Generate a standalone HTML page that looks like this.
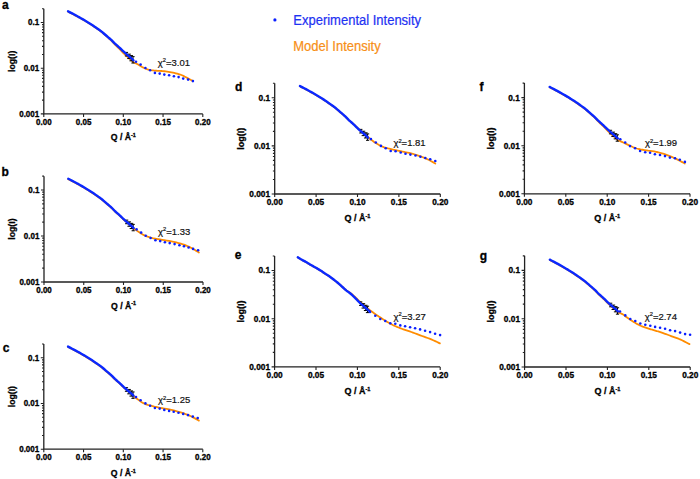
<!DOCTYPE html>
<html><head><meta charset="utf-8"><style>
html,body{margin:0;padding:0;background:#fff;}
svg{display:block;}
text{font-family:"Liberation Sans", sans-serif;fill:#111;}
text[font-weight="bold"]{stroke:#000;stroke-width:0.3px;fill:#000;}
</style></head><body>
<svg width="700" height="479" viewBox="0 0 700 479">
<rect width="700" height="479" fill="#fff"/>
<path d="M43.80,8.74 V113.90 H202.80" stroke="#222" stroke-width="1.3" fill="none"/>
<path d="M40.80,113.90 H43.80 M42.00,100.14 H43.80 M42.00,92.10 H43.80 M42.00,86.39 H43.80 M42.00,81.96 H43.80 M42.00,78.34 H43.80 M42.00,75.28 H43.80 M42.00,72.63 H43.80 M42.00,70.29 H43.80 M40.80,68.20 H43.80 M42.00,54.44 H43.80 M42.00,46.40 H43.80 M42.00,40.69 H43.80 M42.00,36.26 H43.80 M42.00,32.64 H43.80 M42.00,29.58 H43.80 M42.00,26.93 H43.80 M42.00,24.59 H43.80 M40.80,22.50 H43.80 M42.00,8.74 H43.80 M43.80,113.90 V116.90 M83.55,113.90 V116.90 M123.30,113.90 V116.90 M163.05,113.90 V116.90 M202.80,113.90 V116.90" stroke="#222" stroke-width="1.1" fill="none"/>
<text transform="translate(39.20,25.40) scale(1,1.06)" text-anchor="end" font-size="8.0" font-weight="bold">0.1</text>
<text transform="translate(39.20,71.10) scale(1,1.06)" text-anchor="end" font-size="8.0" font-weight="bold">0.01</text>
<text transform="translate(39.20,116.80) scale(1,1.06)" text-anchor="end" font-size="8.0" font-weight="bold">0.001</text>
<text transform="translate(43.80,124.80) scale(1,1.06)" text-anchor="middle" font-size="8.0" font-weight="bold">0.00</text>
<text transform="translate(83.55,124.80) scale(1,1.06)" text-anchor="middle" font-size="8.0" font-weight="bold">0.05</text>
<text transform="translate(123.30,124.80) scale(1,1.06)" text-anchor="middle" font-size="8.0" font-weight="bold">0.10</text>
<text transform="translate(163.05,124.80) scale(1,1.06)" text-anchor="middle" font-size="8.0" font-weight="bold">0.15</text>
<text transform="translate(202.80,124.80) scale(1,1.06)" text-anchor="middle" font-size="8.0" font-weight="bold">0.20</text>
<text transform="translate(123.30,140.40) scale(1,1.06)" text-anchor="middle" font-size="8.7" font-weight="bold">Q / Å<tspan dy="-3" font-size="5.39">-1</tspan></text>
<text transform="translate(14.80,61.32) rotate(-90)" text-anchor="middle" font-size="8.7" font-weight="bold">log(I)</text>
<path d="M68.05,11.60 L69.05,12.13 L70.48,12.87 L72.13,13.73 L73.80,14.61 L75.29,15.40 L76.58,16.09 L77.80,16.76 L78.98,17.41 L80.16,18.06 L81.34,18.73 L82.54,19.42 L83.72,20.11 L84.91,20.81 L86.10,21.52 L87.29,22.25 L88.50,23.00 L89.71,23.76 L90.92,24.54 L92.13,25.33 L93.34,26.14 L94.61,26.99 L95.92,27.89 L97.20,28.79 L98.39,29.63 L99.39,30.34 L100.13,30.86 L100.65,31.22 L101.09,31.54 L101.58,31.93 L102.27,32.49 L103.23,33.29 L104.37,34.27 L105.57,35.34 L106.73,36.38 L107.74,37.31 L108.57,38.06 L109.30,38.71 L109.96,39.31 L110.61,39.91 L111.30,40.59 L112.01,41.33 L112.71,42.10 L113.42,42.90 L114.16,43.71 L114.94,44.55 L115.79,45.40 L116.69,46.27 L117.61,47.16 L118.54,48.06 L119.46,48.98 L120.38,49.93 L121.31,50.91 L122.23,51.89 L123.13,52.83 L123.98,53.69 L124.76,54.46 L125.50,55.16 L126.21,55.82 L126.91,56.46 L127.62,57.10 L128.35,57.75 L129.10,58.39 L129.84,59.02 L130.54,59.60 L131.17,60.15 L131.75,60.66 L132.29,61.17 L132.78,61.63 L133.18,62.01 L133.48,62.29 L133.93,62.50 L134.56,62.77 L135.32,63.11 L136.18,63.52 L137.10,64.00 L138.12,64.59 L139.27,65.29 L140.48,66.04 L141.71,66.76 L142.90,67.40 L144.05,67.95 L145.19,68.47 L146.32,68.93 L147.46,69.35 L148.60,69.70 L149.74,69.98 L150.88,70.19 L152.02,70.35 L153.16,70.48 L154.30,70.60 L155.42,70.69 L156.51,70.74 L157.62,70.78 L158.77,70.82 L160.00,70.90 L161.33,71.00 L162.73,71.12 L164.19,71.26 L165.65,71.42 L167.10,71.60 L168.54,71.81 L169.98,72.04 L171.42,72.29 L172.86,72.58 L174.30,72.90 L175.75,73.26 L177.21,73.64 L178.67,74.06 L180.07,74.52 L181.40,75.00 L182.63,75.52 L183.78,76.09 L184.88,76.68 L185.98,77.29 L187.10,77.90 L188.35,78.57 L189.69,79.31 L190.99,80.04 L192.11,80.66 L192.90,81.10" stroke="#ff8c00" stroke-width="1.8" fill="none" stroke-linejoin="round" stroke-linecap="round"/>
<path d="M126.48,52.40 V56.00 M124.88,52.40 H128.08 M124.88,56.00 H128.08 M129.02,54.15 V58.55 M127.22,54.15 H130.82 M127.22,58.55 H130.82 M131.25,55.62 V60.82 M129.45,55.62 H133.05 M129.45,60.82 H133.05 M133.00,56.64 V63.04 M131.40,56.64 H134.60 M131.40,63.04 H134.60" stroke="#000" stroke-width="1" fill="none"/>
<path d="M68.05,11.30 L69.05,11.83 L70.48,12.57 L72.13,13.43 L73.80,14.31 L75.29,15.10 L76.58,15.79 L77.80,16.46 L78.98,17.11 L80.16,17.76 L81.34,18.43 L82.54,19.12 L83.72,19.81 L84.91,20.51 L86.10,21.22 L87.29,21.95 L88.50,22.70 L89.71,23.46 L90.92,24.24 L92.13,25.03 L93.34,25.84 L94.61,26.69 L95.92,27.59 L97.20,28.49 L98.39,29.33 L99.39,30.04 L100.13,30.56 L100.65,30.92 L101.09,31.24 L101.58,31.63 L102.27,32.19 L103.23,32.99 L104.37,33.97 L105.57,35.01 L106.73,36.02 L107.74,36.90 L108.57,37.60 L109.30,38.21 L109.96,38.77 L110.61,39.33 L111.30,39.96 L112.01,40.64 L112.71,41.36 L113.42,42.10 L114.16,42.85 L114.94,43.61 L115.79,44.39 L116.69,45.18 L117.61,45.99 L118.54,46.80 L119.46,47.64 L120.38,48.50 L121.31,49.40 L122.23,50.31 L123.13,51.18 L123.98,51.98 L124.76,52.69 L125.50,53.35 L126.21,53.97 L126.91,54.57 L127.62,55.18 L128.35,55.80 L129.10,56.42 L129.84,57.03 L130.54,57.61 L131.17,58.15 L131.75,58.66 L132.29,59.17 L132.78,59.63 L133.18,60.01 L133.48,60.29" stroke="#0a28ff" stroke-width="2.4" fill="none" stroke-linejoin="round" stroke-linecap="round"/>
<circle cx="136.00" cy="61.70" r="1.3" fill="#0a1eff"/>
<circle cx="140.60" cy="64.60" r="1.3" fill="#0a1eff"/>
<circle cx="145.40" cy="68.00" r="1.3" fill="#0a1eff"/>
<circle cx="150.10" cy="70.30" r="1.3" fill="#0a1eff"/>
<circle cx="154.90" cy="72.90" r="1.3" fill="#0a1eff"/>
<circle cx="159.70" cy="73.60" r="1.3" fill="#0a1eff"/>
<circle cx="164.30" cy="74.60" r="1.3" fill="#0a1eff"/>
<circle cx="169.10" cy="75.20" r="1.3" fill="#0a1eff"/>
<circle cx="173.90" cy="76.30" r="1.3" fill="#0a1eff"/>
<circle cx="178.60" cy="77.10" r="1.3" fill="#0a1eff"/>
<circle cx="183.20" cy="78.60" r="1.3" fill="#0a1eff"/>
<circle cx="188.10" cy="79.60" r="1.3" fill="#0a1eff"/>
<circle cx="192.90" cy="81.10" r="1.3" fill="#0a1eff"/>
<text transform="translate(157.80,65.60) scale(1,1.035)" font-size="9.5" style="fill:#111;stroke:#111;stroke-width:0.2px">χ<tspan dy="-3.4" font-size="5.8">2</tspan><tspan dy="3.4">=3.01</tspan></text>
<text x="2.10" y="8.90" font-size="12" font-weight="bold">a</text>
<path d="M44.00,176.15 V282.00 H203.00" stroke="#222" stroke-width="1.3" fill="none"/>
<path d="M41.00,282.00 H44.00 M42.20,268.15 H44.00 M42.20,260.05 H44.00 M42.20,254.31 H44.00 M42.20,249.85 H44.00 M42.20,246.21 H44.00 M42.20,243.13 H44.00 M42.20,240.46 H44.00 M42.20,238.10 H44.00 M41.00,236.00 H44.00 M42.20,222.15 H44.00 M42.20,214.05 H44.00 M42.20,208.31 H44.00 M42.20,203.85 H44.00 M42.20,200.21 H44.00 M42.20,197.13 H44.00 M42.20,194.46 H44.00 M42.20,192.10 H44.00 M41.00,190.00 H44.00 M42.20,176.15 H44.00 M44.00,282.00 V285.00 M83.75,282.00 V285.00 M123.50,282.00 V285.00 M163.25,282.00 V285.00 M203.00,282.00 V285.00" stroke="#222" stroke-width="1.1" fill="none"/>
<text transform="translate(39.40,192.90) scale(1,1.06)" text-anchor="end" font-size="8.0" font-weight="bold">0.1</text>
<text transform="translate(39.40,238.90) scale(1,1.06)" text-anchor="end" font-size="8.0" font-weight="bold">0.01</text>
<text transform="translate(39.40,284.90) scale(1,1.06)" text-anchor="end" font-size="8.0" font-weight="bold">0.001</text>
<text transform="translate(44.00,292.90) scale(1,1.06)" text-anchor="middle" font-size="8.0" font-weight="bold">0.00</text>
<text transform="translate(83.75,292.90) scale(1,1.06)" text-anchor="middle" font-size="8.0" font-weight="bold">0.05</text>
<text transform="translate(123.50,292.90) scale(1,1.06)" text-anchor="middle" font-size="8.0" font-weight="bold">0.10</text>
<text transform="translate(163.25,292.90) scale(1,1.06)" text-anchor="middle" font-size="8.0" font-weight="bold">0.15</text>
<text transform="translate(203.00,292.90) scale(1,1.06)" text-anchor="middle" font-size="8.0" font-weight="bold">0.20</text>
<text transform="translate(123.50,308.50) scale(1,1.06)" text-anchor="middle" font-size="8.7" font-weight="bold">Q / Å<tspan dy="-3" font-size="5.39">-1</tspan></text>
<text transform="translate(15.00,229.08) rotate(-90)" text-anchor="middle" font-size="8.7" font-weight="bold">log(I)</text>
<path d="M68.25,179.13 L69.25,179.66 L70.68,180.40 L72.33,181.27 L74.00,182.15 L75.49,182.95 L76.78,183.65 L78.00,184.32 L79.18,184.97 L80.36,185.63 L81.54,186.31 L82.74,187.00 L83.92,187.69 L85.11,188.40 L86.30,189.11 L87.49,189.85 L88.70,190.60 L89.91,191.37 L91.12,192.15 L92.33,192.95 L93.54,193.76 L94.81,194.62 L96.12,195.53 L97.40,196.43 L98.59,197.27 L99.59,197.99 L100.33,198.51 L100.85,198.88 L101.29,199.20 L101.78,199.59 L102.47,200.15 L103.43,200.96 L104.57,201.94 L105.77,202.99 L106.93,204.01 L107.94,204.89 L108.77,205.60 L109.50,206.21 L110.16,206.78 L110.81,207.34 L111.50,207.97 L112.21,208.66 L112.91,209.38 L113.62,210.12 L114.36,210.88 L115.14,211.65 L115.99,212.43 L116.89,213.23 L117.81,214.04 L118.74,214.86 L119.66,215.70 L120.58,216.57 L121.51,217.48 L122.43,218.39 L123.33,219.26 L124.18,220.07 L124.96,220.79 L125.70,221.45 L126.41,222.07 L127.11,222.68 L127.82,223.29 L128.55,223.92 L129.30,224.54 L130.04,225.15 L130.74,225.74 L131.37,226.28 L131.95,226.80 L132.49,227.31 L132.98,227.77 L133.38,228.16 L133.68,228.44 L134.95,229.33 L136.76,230.61 L138.86,232.06 L140.99,233.47 L142.90,234.60 L144.56,235.44 L146.14,236.12 L147.68,236.70 L149.25,237.21 L150.90,237.70 L152.61,238.14 L154.35,238.51 L156.14,238.84 L158.02,239.15 L160.00,239.50 L162.13,239.86 L164.39,240.20 L166.72,240.56 L169.08,240.95 L171.40,241.40 L173.75,241.91 L176.16,242.46 L178.55,243.06 L180.82,243.67 L182.90,244.30 L184.72,244.93 L186.35,245.56 L187.87,246.22 L189.36,246.92 L190.90,247.70 L192.63,248.65 L194.48,249.75 L196.28,250.86 L197.81,251.82 L198.90,252.50" stroke="#ff8c00" stroke-width="1.8" fill="none" stroke-linejoin="round" stroke-linecap="round"/>
<path d="M126.68,220.11 V223.71 M125.08,220.11 H128.28 M125.08,223.71 H128.28 M129.22,221.88 V226.28 M127.42,221.88 H131.02 M127.42,226.28 H131.02 M131.45,223.35 V228.55 M129.65,223.35 H133.25 M129.65,228.55 H133.25 M133.20,224.38 V230.78 M131.60,224.38 H134.80 M131.60,230.78 H134.80" stroke="#000" stroke-width="1" fill="none"/>
<path d="M68.25,178.73 L69.25,179.26 L70.68,180.00 L72.33,180.87 L74.00,181.75 L75.49,182.55 L76.78,183.25 L78.00,183.92 L79.18,184.57 L80.36,185.23 L81.54,185.91 L82.74,186.60 L83.92,187.29 L85.11,188.00 L86.30,188.71 L87.49,189.45 L88.70,190.20 L89.91,190.97 L91.12,191.75 L92.33,192.55 L93.54,193.36 L94.81,194.22 L96.12,195.13 L97.40,196.03 L98.59,196.87 L99.59,197.59 L100.33,198.11 L100.85,198.48 L101.29,198.80 L101.78,199.19 L102.47,199.75 L103.43,200.56 L104.57,201.54 L105.77,202.59 L106.93,203.61 L107.94,204.49 L108.77,205.20 L109.50,205.81 L110.16,206.38 L110.81,206.94 L111.50,207.57 L112.21,208.26 L112.91,208.98 L113.62,209.72 L114.36,210.48 L115.14,211.25 L115.99,212.03 L116.89,212.83 L117.81,213.64 L118.74,214.46 L119.66,215.30 L120.58,216.17 L121.51,217.08 L122.43,217.99 L123.33,218.86 L124.18,219.67 L124.96,220.39 L125.70,221.05 L126.41,221.67 L127.11,222.28 L127.82,222.89 L128.55,223.52 L129.30,224.14 L130.04,224.75 L130.74,225.34 L131.37,225.88 L131.95,226.40 L132.49,226.91 L132.98,227.37 L133.38,227.76 L133.68,228.04" stroke="#0a28ff" stroke-width="2.4" fill="none" stroke-linejoin="round" stroke-linecap="round"/>
<circle cx="136.60" cy="229.40" r="1.3" fill="#0a1eff"/>
<circle cx="141.10" cy="232.60" r="1.3" fill="#0a1eff"/>
<circle cx="145.70" cy="235.70" r="1.3" fill="#0a1eff"/>
<circle cx="150.60" cy="238.00" r="1.3" fill="#0a1eff"/>
<circle cx="155.40" cy="240.30" r="1.3" fill="#0a1eff"/>
<circle cx="160.20" cy="241.10" r="1.3" fill="#0a1eff"/>
<circle cx="164.90" cy="242.30" r="1.3" fill="#0a1eff"/>
<circle cx="169.70" cy="243.10" r="1.3" fill="#0a1eff"/>
<circle cx="174.60" cy="244.10" r="1.3" fill="#0a1eff"/>
<circle cx="179.40" cy="245.20" r="1.3" fill="#0a1eff"/>
<circle cx="184.00" cy="246.30" r="1.3" fill="#0a1eff"/>
<circle cx="188.60" cy="247.50" r="1.3" fill="#0a1eff"/>
<circle cx="193.10" cy="248.90" r="1.3" fill="#0a1eff"/>
<circle cx="198.10" cy="250.20" r="1.3" fill="#0a1eff"/>
<text transform="translate(158.00,234.60) scale(1,1.035)" font-size="9.5" style="fill:#111;stroke:#111;stroke-width:0.2px">χ<tspan dy="-3.4" font-size="5.8">2</tspan><tspan dy="3.4">=1.33</tspan></text>
<text x="1.60" y="175.80" font-size="12" font-weight="bold">b</text>
<path d="M43.80,344.04 V449.20 H202.80" stroke="#222" stroke-width="1.3" fill="none"/>
<path d="M40.80,449.20 H43.80 M42.00,435.44 H43.80 M42.00,427.40 H43.80 M42.00,421.69 H43.80 M42.00,417.26 H43.80 M42.00,413.64 H43.80 M42.00,410.58 H43.80 M42.00,407.93 H43.80 M42.00,405.59 H43.80 M40.80,403.50 H43.80 M42.00,389.74 H43.80 M42.00,381.70 H43.80 M42.00,375.99 H43.80 M42.00,371.56 H43.80 M42.00,367.94 H43.80 M42.00,364.88 H43.80 M42.00,362.23 H43.80 M42.00,359.89 H43.80 M40.80,357.80 H43.80 M42.00,344.04 H43.80 M43.80,449.20 V452.20 M83.55,449.20 V452.20 M123.30,449.20 V452.20 M163.05,449.20 V452.20 M202.80,449.20 V452.20" stroke="#222" stroke-width="1.1" fill="none"/>
<text transform="translate(39.20,360.70) scale(1,1.06)" text-anchor="end" font-size="8.0" font-weight="bold">0.1</text>
<text transform="translate(39.20,406.40) scale(1,1.06)" text-anchor="end" font-size="8.0" font-weight="bold">0.01</text>
<text transform="translate(39.20,452.10) scale(1,1.06)" text-anchor="end" font-size="8.0" font-weight="bold">0.001</text>
<text transform="translate(43.80,460.10) scale(1,1.06)" text-anchor="middle" font-size="8.0" font-weight="bold">0.00</text>
<text transform="translate(83.55,460.10) scale(1,1.06)" text-anchor="middle" font-size="8.0" font-weight="bold">0.05</text>
<text transform="translate(123.30,460.10) scale(1,1.06)" text-anchor="middle" font-size="8.0" font-weight="bold">0.10</text>
<text transform="translate(163.05,460.10) scale(1,1.06)" text-anchor="middle" font-size="8.0" font-weight="bold">0.15</text>
<text transform="translate(202.80,460.10) scale(1,1.06)" text-anchor="middle" font-size="8.0" font-weight="bold">0.20</text>
<text transform="translate(123.30,475.70) scale(1,1.06)" text-anchor="middle" font-size="8.7" font-weight="bold">Q / Å<tspan dy="-3" font-size="5.39">-1</tspan></text>
<text transform="translate(14.80,396.62) rotate(-90)" text-anchor="middle" font-size="8.7" font-weight="bold">log(I)</text>
<path d="M68.05,347.00 L69.05,347.53 L70.48,348.27 L72.13,349.13 L73.80,350.01 L75.29,350.80 L76.58,351.49 L77.80,352.16 L78.98,352.81 L80.16,353.46 L81.34,354.13 L82.54,354.82 L83.72,355.51 L84.91,356.21 L86.10,356.92 L87.29,357.65 L88.50,358.40 L89.71,359.16 L90.92,359.94 L92.13,360.73 L93.34,361.54 L94.61,362.39 L95.92,363.29 L97.20,364.19 L98.39,365.03 L99.39,365.74 L100.13,366.26 L100.65,366.62 L101.09,366.94 L101.58,367.33 L102.27,367.89 L103.23,368.69 L104.37,369.67 L105.57,370.71 L106.73,371.72 L107.74,372.60 L108.57,373.30 L109.30,373.91 L109.96,374.47 L110.61,375.03 L111.30,375.66 L112.01,376.34 L112.71,377.06 L113.42,377.80 L114.16,378.55 L114.94,379.31 L115.79,380.09 L116.69,380.88 L117.61,381.69 L118.54,382.50 L119.46,383.33 L120.38,384.20 L121.31,385.10 L122.23,386.01 L123.13,386.88 L123.98,387.68 L124.76,388.39 L125.50,389.05 L126.21,389.67 L126.91,390.27 L127.62,390.88 L128.35,391.50 L129.10,392.12 L129.84,392.73 L130.54,393.31 L131.17,393.85 L131.75,394.36 L132.29,394.87 L132.78,395.33 L133.18,395.71 L133.48,395.99 L134.78,397.00 L136.64,398.46 L138.78,400.10 L140.96,401.67 L142.90,402.90 L144.57,403.73 L146.15,404.35 L147.69,404.83 L149.25,405.25 L150.90,405.70 L152.61,406.16 L154.35,406.59 L156.14,406.99 L158.02,407.39 L160.00,407.80 L162.13,408.20 L164.39,408.59 L166.72,408.98 L169.08,409.41 L171.40,409.90 L173.75,410.47 L176.16,411.10 L178.55,411.77 L180.82,412.44 L182.90,413.10 L184.72,413.72 L186.35,414.33 L187.87,414.94 L189.36,415.59 L190.90,416.30 L192.63,417.16 L194.48,418.15 L196.28,419.14 L197.81,420.00 L198.90,420.60" stroke="#ff8c00" stroke-width="1.8" fill="none" stroke-linejoin="round" stroke-linecap="round"/>
<path d="M126.48,387.70 V391.30 M124.88,387.70 H128.08 M124.88,391.30 H128.08 M129.02,389.45 V393.85 M127.22,389.45 H130.82 M127.22,393.85 H130.82 M131.25,390.92 V396.12 M129.45,390.92 H133.05 M129.45,396.12 H133.05 M133.00,391.94 V398.34 M131.40,391.94 H134.60 M131.40,398.34 H134.60" stroke="#000" stroke-width="1" fill="none"/>
<path d="M68.05,346.60 L69.05,347.13 L70.48,347.87 L72.13,348.73 L73.80,349.61 L75.29,350.40 L76.58,351.09 L77.80,351.76 L78.98,352.41 L80.16,353.06 L81.34,353.73 L82.54,354.42 L83.72,355.11 L84.91,355.81 L86.10,356.52 L87.29,357.25 L88.50,358.00 L89.71,358.76 L90.92,359.54 L92.13,360.33 L93.34,361.14 L94.61,361.99 L95.92,362.89 L97.20,363.79 L98.39,364.63 L99.39,365.34 L100.13,365.86 L100.65,366.22 L101.09,366.54 L101.58,366.93 L102.27,367.49 L103.23,368.29 L104.37,369.27 L105.57,370.31 L106.73,371.32 L107.74,372.20 L108.57,372.90 L109.30,373.51 L109.96,374.07 L110.61,374.63 L111.30,375.26 L112.01,375.94 L112.71,376.66 L113.42,377.40 L114.16,378.15 L114.94,378.91 L115.79,379.69 L116.69,380.48 L117.61,381.29 L118.54,382.10 L119.46,382.94 L120.38,383.80 L121.31,384.70 L122.23,385.61 L123.13,386.48 L123.98,387.28 L124.76,387.99 L125.50,388.65 L126.21,389.27 L126.91,389.87 L127.62,390.48 L128.35,391.10 L129.10,391.72 L129.84,392.33 L130.54,392.91 L131.17,393.45 L131.75,393.96 L132.29,394.47 L132.78,394.93 L133.18,395.31 L133.48,395.59" stroke="#0a28ff" stroke-width="2.4" fill="none" stroke-linejoin="round" stroke-linecap="round"/>
<circle cx="136.00" cy="397.10" r="1.3" fill="#0a1eff"/>
<circle cx="140.60" cy="400.30" r="1.3" fill="#0a1eff"/>
<circle cx="145.40" cy="403.40" r="1.3" fill="#0a1eff"/>
<circle cx="150.10" cy="405.70" r="1.3" fill="#0a1eff"/>
<circle cx="154.90" cy="408.00" r="1.3" fill="#0a1eff"/>
<circle cx="159.70" cy="408.60" r="1.3" fill="#0a1eff"/>
<circle cx="164.30" cy="409.90" r="1.3" fill="#0a1eff"/>
<circle cx="169.10" cy="410.90" r="1.3" fill="#0a1eff"/>
<circle cx="173.70" cy="411.80" r="1.3" fill="#0a1eff"/>
<circle cx="178.50" cy="412.80" r="1.3" fill="#0a1eff"/>
<circle cx="183.20" cy="413.90" r="1.3" fill="#0a1eff"/>
<circle cx="188.00" cy="415.10" r="1.3" fill="#0a1eff"/>
<circle cx="192.80" cy="416.60" r="1.3" fill="#0a1eff"/>
<circle cx="197.70" cy="418.10" r="1.3" fill="#0a1eff"/>
<text transform="translate(158.00,403.40) scale(1,1.035)" font-size="9.5" style="fill:#111;stroke:#111;stroke-width:0.2px">χ<tspan dy="-3.4" font-size="5.8">2</tspan><tspan dy="3.4">=1.25</tspan></text>
<text x="2.70" y="351.60" font-size="12" font-weight="bold">c</text>
<path d="M274.70,83.32 V194.00 H440.30" stroke="#222" stroke-width="1.3" fill="none"/>
<path d="M271.70,194.00 H274.70 M272.90,179.52 H274.70 M272.90,171.05 H274.70 M272.90,165.04 H274.70 M272.90,160.38 H274.70 M272.90,156.57 H274.70 M272.90,153.35 H274.70 M272.90,150.56 H274.70 M272.90,148.10 H274.70 M271.70,145.90 H274.70 M272.90,131.42 H274.70 M272.90,122.95 H274.70 M272.90,116.94 H274.70 M272.90,112.28 H274.70 M272.90,108.47 H274.70 M272.90,105.25 H274.70 M272.90,102.46 H274.70 M272.90,100.00 H274.70 M271.70,97.80 H274.70 M272.90,83.32 H274.70 M274.70,194.00 V197.00 M316.10,194.00 V197.00 M357.50,194.00 V197.00 M398.90,194.00 V197.00 M440.30,194.00 V197.00" stroke="#222" stroke-width="1.1" fill="none"/>
<text transform="translate(270.10,100.70) scale(1,1.06)" text-anchor="end" font-size="8.3" font-weight="bold">0.1</text>
<text transform="translate(270.10,148.80) scale(1,1.06)" text-anchor="end" font-size="8.3" font-weight="bold">0.01</text>
<text transform="translate(270.10,196.90) scale(1,1.06)" text-anchor="end" font-size="8.3" font-weight="bold">0.001</text>
<text transform="translate(274.70,205.30) scale(1,1.06)" text-anchor="middle" font-size="8.3" font-weight="bold">0.00</text>
<text transform="translate(316.10,205.30) scale(1,1.06)" text-anchor="middle" font-size="8.3" font-weight="bold">0.05</text>
<text transform="translate(357.50,205.30) scale(1,1.06)" text-anchor="middle" font-size="8.3" font-weight="bold">0.10</text>
<text transform="translate(398.90,205.30) scale(1,1.06)" text-anchor="middle" font-size="8.3" font-weight="bold">0.15</text>
<text transform="translate(440.30,205.30) scale(1,1.06)" text-anchor="middle" font-size="8.3" font-weight="bold">0.20</text>
<text transform="translate(357.50,221.30) scale(1,1.06)" text-anchor="middle" font-size="9.0" font-weight="bold">Q / Å<tspan dy="-3" font-size="5.58">-1</tspan></text>
<text transform="translate(244.40,138.66) rotate(-90)" text-anchor="middle" font-size="9.0" font-weight="bold">log(I)</text>
<path d="M299.95,86.32 L301.00,86.87 L302.49,87.65 L304.21,88.55 L305.95,89.48 L307.50,90.31 L308.84,91.04 L310.11,91.74 L311.34,92.42 L312.56,93.11 L313.80,93.82 L315.04,94.54 L316.28,95.27 L317.52,96.00 L318.75,96.75 L320.00,97.52 L321.25,98.31 L322.51,99.11 L323.78,99.93 L325.04,100.77 L326.30,101.61 L327.61,102.51 L328.98,103.46 L330.32,104.41 L331.55,105.28 L332.60,106.04 L333.37,106.58 L333.91,106.97 L334.36,107.30 L334.88,107.71 L335.60,108.30 L336.60,109.14 L337.78,110.17 L339.03,111.25 L340.24,112.30 L341.30,113.21 L342.16,113.93 L342.92,114.55 L343.61,115.13 L344.28,115.70 L345.00,116.34 L345.74,117.04 L346.47,117.77 L347.21,118.52 L347.98,119.29 L348.80,120.06 L349.68,120.85 L350.61,121.65 L351.58,122.46 L352.55,123.29 L353.50,124.13 L354.46,125.00 L355.43,125.92 L356.39,126.84 L357.32,127.73 L358.20,128.54 L359.02,129.28 L359.79,129.95 L360.53,130.58 L361.26,131.20 L362.00,131.82 L362.76,132.47 L363.55,133.11 L364.31,133.75 L365.04,134.35 L365.70,134.92 L366.30,135.46 L366.87,135.99 L367.37,136.48 L367.79,136.89 L368.10,137.18 L369.13,138.01 L370.59,139.20 L372.29,140.57 L374.09,141.93 L375.80,143.10 L377.43,144.08 L379.08,144.99 L380.78,145.83 L382.51,146.60 L384.30,147.30 L386.18,147.92 L388.15,148.46 L390.15,148.93 L392.12,149.37 L394.00,149.80 L395.78,150.20 L397.49,150.57 L399.16,150.91 L400.82,151.25 L402.50,151.60 L404.18,151.94 L405.84,152.26 L407.51,152.59 L409.22,152.96 L411.00,153.40 L412.90,153.92 L414.91,154.51 L416.94,155.14 L418.89,155.77 L420.70,156.40 L422.31,157.00 L423.79,157.59 L425.20,158.19 L426.58,158.82 L428.00,159.50 L429.58,160.31 L431.27,161.23 L432.91,162.14 L434.31,162.94 L435.30,163.50" stroke="#ff8c00" stroke-width="1.8" fill="none" stroke-linejoin="round" stroke-linecap="round"/>
<path d="M360.81,129.37 V132.97 M359.21,129.37 H362.41 M359.21,132.97 H362.41 M363.46,131.23 V135.63 M361.66,131.23 H365.26 M361.66,135.63 H365.26 M365.78,132.79 V137.99 M363.98,132.79 H367.58 M363.98,137.99 H367.58 M367.60,133.90 V140.30 M366.00,133.90 H369.20 M366.00,140.30 H369.20" stroke="#000" stroke-width="1" fill="none"/>
<path d="M299.95,86.02 L301.00,86.57 L302.49,87.35 L304.21,88.25 L305.95,89.18 L307.50,90.01 L308.84,90.74 L310.11,91.44 L311.34,92.12 L312.56,92.81 L313.80,93.52 L315.04,94.24 L316.28,94.97 L317.52,95.70 L318.75,96.45 L320.00,97.22 L321.25,98.01 L322.51,98.81 L323.78,99.63 L325.04,100.47 L326.30,101.31 L327.61,102.21 L328.98,103.16 L330.32,104.11 L331.55,104.98 L332.60,105.74 L333.37,106.28 L333.91,106.67 L334.36,107.00 L334.88,107.41 L335.60,108.00 L336.60,108.84 L337.78,109.87 L339.03,110.97 L340.24,112.03 L341.30,112.95 L342.16,113.70 L342.92,114.34 L343.61,114.92 L344.28,115.52 L345.00,116.17 L345.74,116.90 L346.47,117.65 L347.21,118.43 L347.98,119.22 L348.80,120.02 L349.68,120.84 L350.61,121.67 L351.58,122.52 L352.55,123.38 L353.50,124.25 L354.46,125.17 L355.43,126.12 L356.39,127.07 L357.32,127.98 L358.20,128.82 L359.02,129.58 L359.79,130.27 L360.53,130.92 L361.26,131.55 L362.00,132.19 L362.76,132.85 L363.55,133.50 L364.31,134.14 L365.04,134.75 L365.70,135.32 L366.30,135.86 L366.87,136.39 L367.37,136.88 L367.79,137.29 L368.10,137.58" stroke="#0a28ff" stroke-width="2.4" fill="none" stroke-linejoin="round" stroke-linecap="round"/>
<circle cx="370.90" cy="139.10" r="1.3" fill="#0a1eff"/>
<circle cx="375.80" cy="142.50" r="1.3" fill="#0a1eff"/>
<circle cx="380.90" cy="145.90" r="1.3" fill="#0a1eff"/>
<circle cx="385.70" cy="148.20" r="1.3" fill="#0a1eff"/>
<circle cx="390.70" cy="151.00" r="1.3" fill="#0a1eff"/>
<circle cx="395.60" cy="151.30" r="1.3" fill="#0a1eff"/>
<circle cx="400.70" cy="152.50" r="1.3" fill="#0a1eff"/>
<circle cx="405.50" cy="153.80" r="1.3" fill="#0a1eff"/>
<circle cx="410.40" cy="154.60" r="1.3" fill="#0a1eff"/>
<circle cx="415.50" cy="155.50" r="1.3" fill="#0a1eff"/>
<circle cx="420.40" cy="156.80" r="1.3" fill="#0a1eff"/>
<circle cx="425.30" cy="158.00" r="1.3" fill="#0a1eff"/>
<circle cx="430.20" cy="159.20" r="1.3" fill="#0a1eff"/>
<circle cx="435.30" cy="161.00" r="1.3" fill="#0a1eff"/>
<text transform="translate(393.40,146.10) scale(1,1.035)" font-size="9.5" style="fill:#111;stroke:#111;stroke-width:0.2px">χ<tspan dy="-3.4" font-size="5.8">2</tspan><tspan dy="3.4">=1.81</tspan></text>
<text x="235.00" y="91.30" font-size="12" font-weight="bold">d</text>
<path d="M274.60,255.99 V366.90 H440.20" stroke="#222" stroke-width="1.3" fill="none"/>
<path d="M271.60,366.90 H274.60 M272.80,352.39 H274.60 M272.80,343.90 H274.60 M272.80,337.88 H274.60 M272.80,333.21 H274.60 M272.80,329.39 H274.60 M272.80,326.17 H274.60 M272.80,323.37 H274.60 M272.80,320.91 H274.60 M271.60,318.70 H274.60 M272.80,304.19 H274.60 M272.80,295.70 H274.60 M272.80,289.68 H274.60 M272.80,285.01 H274.60 M272.80,281.19 H274.60 M272.80,277.97 H274.60 M272.80,275.17 H274.60 M272.80,272.71 H274.60 M271.60,270.50 H274.60 M272.80,255.99 H274.60 M274.60,366.90 V369.90 M316.00,366.90 V369.90 M357.40,366.90 V369.90 M398.80,366.90 V369.90 M440.20,366.90 V369.90" stroke="#222" stroke-width="1.1" fill="none"/>
<text transform="translate(270.00,273.40) scale(1,1.06)" text-anchor="end" font-size="8.3" font-weight="bold">0.1</text>
<text transform="translate(270.00,321.60) scale(1,1.06)" text-anchor="end" font-size="8.3" font-weight="bold">0.01</text>
<text transform="translate(270.00,369.80) scale(1,1.06)" text-anchor="end" font-size="8.3" font-weight="bold">0.001</text>
<text transform="translate(274.60,378.20) scale(1,1.06)" text-anchor="middle" font-size="8.3" font-weight="bold">0.00</text>
<text transform="translate(316.00,378.20) scale(1,1.06)" text-anchor="middle" font-size="8.3" font-weight="bold">0.05</text>
<text transform="translate(357.40,378.20) scale(1,1.06)" text-anchor="middle" font-size="8.3" font-weight="bold">0.10</text>
<text transform="translate(398.80,378.20) scale(1,1.06)" text-anchor="middle" font-size="8.3" font-weight="bold">0.15</text>
<text transform="translate(440.20,378.20) scale(1,1.06)" text-anchor="middle" font-size="8.3" font-weight="bold">0.20</text>
<text transform="translate(357.40,394.20) scale(1,1.06)" text-anchor="middle" font-size="9.0" font-weight="bold">Q / Å<tspan dy="-3" font-size="5.58">-1</tspan></text>
<text transform="translate(244.30,311.45) rotate(-90)" text-anchor="middle" font-size="9.0" font-weight="bold">log(I)</text>
<path d="M297.80,257.50 L298.21,257.76 L298.76,258.12 L299.44,258.55 L300.19,259.02 L301.00,259.50 L301.88,259.99 L302.87,260.52 L303.91,261.06 L304.97,261.63 L306.00,262.20 L307.00,262.78 L308.00,263.39 L309.00,264.00 L310.00,264.61 L311.00,265.20 L312.00,265.77 L313.00,266.32 L314.00,266.88 L315.00,267.43 L316.00,268.00 L317.02,268.59 L318.05,269.20 L319.07,269.81 L320.06,270.42 L321.00,271.00 L321.86,271.56 L322.67,272.11 L323.45,272.65 L324.22,273.18 L325.00,273.70 L325.78,274.19 L326.55,274.65 L327.33,275.12 L328.14,275.62 L329.00,276.20 L329.94,276.87 L330.93,277.62 L331.95,278.40 L332.98,279.21 L334.00,280.00 L335.02,280.79 L336.05,281.60 L337.07,282.41 L338.06,283.21 L339.00,283.97 L339.87,284.72 L340.70,285.45 L341.48,286.17 L342.25,286.86 L343.00,287.52 L343.72,288.13 L344.39,288.71 L345.05,289.27 L345.74,289.82 L346.50,290.40 L347.33,290.98 L348.20,291.55 L349.12,292.13 L350.05,292.76 L351.00,293.46 L351.98,294.27 L353.01,295.16 L354.05,296.09 L355.06,297.01 L356.00,297.89 L356.87,298.73 L357.70,299.56 L358.48,300.37 L359.25,301.14 L360.00,301.85 L360.73,302.49 L361.44,303.07 L362.12,303.62 L362.81,304.16 L363.50,304.72 L364.22,305.33 L364.96,305.96 L365.69,306.58 L366.38,307.17 L367.00,307.70 L367.57,308.18 L368.12,308.63 L368.60,309.03 L369.01,309.36 L369.30,309.60 L369.39,309.68 L369.47,309.77 L369.62,309.91 L369.94,310.17 L370.50,310.60 L371.36,311.25 L372.47,312.07 L373.74,313.01 L375.08,313.97 L376.40,314.90 L377.72,315.79 L379.09,316.70 L380.50,317.61 L381.91,318.52 L383.30,319.40 L384.66,320.27 L386.02,321.14 L387.38,322.00 L388.74,322.82 L390.10,323.60 L391.46,324.32 L392.80,325.00 L394.16,325.64 L395.55,326.27 L397.00,326.90 L398.53,327.52 L400.12,328.14 L401.75,328.74 L403.38,329.32 L405.00,329.90 L406.58,330.45 L408.15,330.97 L409.72,331.48 L411.33,332.02 L413.00,332.60 L414.75,333.24 L416.56,333.91 L418.40,334.61 L420.26,335.31 L422.10,336.00 L423.94,336.67 L425.80,337.33 L427.66,338.00 L429.50,338.68 L431.30,339.40 L433.20,340.23 L435.20,341.15 L437.11,342.06 L438.74,342.85 L439.90,343.40" stroke="#ff8c00" stroke-width="1.8" fill="none" stroke-linejoin="round" stroke-linecap="round"/>
<path d="M360.71,301.86 V305.46 M359.11,301.86 H362.31 M359.11,305.46 H362.31 M363.36,303.68 V308.08 M361.56,303.68 H365.16 M361.56,308.08 H365.16 M365.68,305.27 V310.47 M363.88,305.27 H367.48 M363.88,310.47 H367.48 M367.50,306.22 V312.62 M365.90,306.22 H369.10 M365.90,312.62 H369.10" stroke="#000" stroke-width="1" fill="none"/>
<path d="M297.80,257.30 L298.21,257.56 L298.76,257.92 L299.44,258.35 L300.19,258.82 L301.00,259.30 L301.88,259.79 L302.87,260.32 L303.91,260.86 L304.97,261.43 L306.00,262.00 L307.00,262.58 L308.00,263.19 L309.00,263.80 L310.00,264.41 L311.00,265.00 L312.00,265.57 L313.00,266.12 L314.00,266.68 L315.00,267.23 L316.00,267.80 L317.02,268.39 L318.05,269.00 L319.07,269.61 L320.06,270.22 L321.00,270.80 L321.86,271.36 L322.67,271.91 L323.45,272.45 L324.22,272.98 L325.00,273.50 L325.78,273.99 L326.55,274.45 L327.33,274.92 L328.14,275.42 L329.00,276.00 L329.94,276.67 L330.93,277.42 L331.95,278.20 L332.98,279.01 L334.00,279.80 L335.02,280.59 L336.05,281.40 L337.07,282.21 L338.06,283.02 L339.00,283.80 L339.87,284.57 L340.70,285.33 L341.48,286.08 L342.25,286.80 L343.00,287.50 L343.72,288.15 L344.39,288.77 L345.05,289.37 L345.74,289.97 L346.50,290.60 L347.33,291.24 L348.20,291.87 L349.12,292.52 L350.05,293.23 L351.00,294.00 L351.98,294.88 L353.01,295.85 L354.05,296.86 L355.06,297.86 L356.00,298.80 L356.87,299.70 L357.70,300.58 L358.48,301.44 L359.25,302.25 L360.00,303.00 L360.73,303.68 L361.44,304.29 L362.12,304.86 L362.81,305.42 L363.50,306.00 L364.22,306.62 L364.96,307.25 L365.69,307.88 L366.38,308.47 L367.00,309.00 L367.57,309.48 L368.12,309.93 L368.60,310.33 L369.01,310.66 L369.30,310.90" stroke="#0a28ff" stroke-width="2.4" fill="none" stroke-linejoin="round" stroke-linecap="round"/>
<circle cx="370.00" cy="311.90" r="1.3" fill="#0a1eff"/>
<circle cx="375.30" cy="315.70" r="1.3" fill="#0a1eff"/>
<circle cx="380.30" cy="319.00" r="1.3" fill="#0a1eff"/>
<circle cx="385.30" cy="321.00" r="1.3" fill="#0a1eff"/>
<circle cx="390.30" cy="323.20" r="1.3" fill="#0a1eff"/>
<circle cx="395.30" cy="323.80" r="1.3" fill="#0a1eff"/>
<circle cx="400.30" cy="325.40" r="1.3" fill="#0a1eff"/>
<circle cx="405.10" cy="326.30" r="1.3" fill="#0a1eff"/>
<circle cx="410.10" cy="327.30" r="1.3" fill="#0a1eff"/>
<circle cx="415.10" cy="328.20" r="1.3" fill="#0a1eff"/>
<circle cx="420.10" cy="329.40" r="1.3" fill="#0a1eff"/>
<circle cx="425.10" cy="330.70" r="1.3" fill="#0a1eff"/>
<circle cx="430.10" cy="332.10" r="1.3" fill="#0a1eff"/>
<circle cx="435.10" cy="333.80" r="1.3" fill="#0a1eff"/>
<circle cx="440.10" cy="335.10" r="1.3" fill="#0a1eff"/>
<text transform="translate(393.50,319.80) scale(1,1.035)" font-size="9.5" style="fill:#111;stroke:#111;stroke-width:0.2px">χ<tspan dy="-3.4" font-size="5.8">2</tspan><tspan dy="3.4">=3.27</tspan></text>
<text x="234.80" y="259.40" font-size="12" font-weight="bold">e</text>
<path d="M524.40,83.12 V193.80 H690.00" stroke="#222" stroke-width="1.3" fill="none"/>
<path d="M521.40,193.80 H524.40 M522.60,179.32 H524.40 M522.60,170.85 H524.40 M522.60,164.84 H524.40 M522.60,160.18 H524.40 M522.60,156.37 H524.40 M522.60,153.15 H524.40 M522.60,150.36 H524.40 M522.60,147.90 H524.40 M521.40,145.70 H524.40 M522.60,131.22 H524.40 M522.60,122.75 H524.40 M522.60,116.74 H524.40 M522.60,112.08 H524.40 M522.60,108.27 H524.40 M522.60,105.05 H524.40 M522.60,102.26 H524.40 M522.60,99.80 H524.40 M521.40,97.60 H524.40 M522.60,83.12 H524.40 M524.40,193.80 V196.80 M565.80,193.80 V196.80 M607.20,193.80 V196.80 M648.60,193.80 V196.80 M690.00,193.80 V196.80" stroke="#222" stroke-width="1.1" fill="none"/>
<text transform="translate(519.80,100.50) scale(1,1.06)" text-anchor="end" font-size="8.3" font-weight="bold">0.1</text>
<text transform="translate(519.80,148.60) scale(1,1.06)" text-anchor="end" font-size="8.3" font-weight="bold">0.01</text>
<text transform="translate(519.80,196.70) scale(1,1.06)" text-anchor="end" font-size="8.3" font-weight="bold">0.001</text>
<text transform="translate(524.40,205.10) scale(1,1.06)" text-anchor="middle" font-size="8.3" font-weight="bold">0.00</text>
<text transform="translate(565.80,205.10) scale(1,1.06)" text-anchor="middle" font-size="8.3" font-weight="bold">0.05</text>
<text transform="translate(607.20,205.10) scale(1,1.06)" text-anchor="middle" font-size="8.3" font-weight="bold">0.10</text>
<text transform="translate(648.60,205.10) scale(1,1.06)" text-anchor="middle" font-size="8.3" font-weight="bold">0.15</text>
<text transform="translate(690.00,205.10) scale(1,1.06)" text-anchor="middle" font-size="8.3" font-weight="bold">0.20</text>
<text transform="translate(607.20,221.10) scale(1,1.06)" text-anchor="middle" font-size="9.0" font-weight="bold">Q / Å<tspan dy="-3" font-size="5.58">-1</tspan></text>
<text transform="translate(494.10,138.46) rotate(-90)" text-anchor="middle" font-size="9.0" font-weight="bold">log(I)</text>
<path d="M549.65,87.32 L550.70,87.87 L552.19,88.65 L553.91,89.55 L555.65,90.48 L557.20,91.31 L558.54,92.04 L559.81,92.74 L561.04,93.42 L562.26,94.11 L563.50,94.82 L564.74,95.54 L565.98,96.27 L567.22,97.00 L568.45,97.75 L569.70,98.52 L570.95,99.31 L572.21,100.11 L573.48,100.93 L574.74,101.77 L576.00,102.61 L577.31,103.51 L578.68,104.46 L580.02,105.41 L581.25,106.28 L582.30,107.04 L583.07,107.58 L583.61,107.97 L584.06,108.30 L584.58,108.71 L585.30,109.30 L586.30,110.14 L587.48,111.17 L588.73,112.28 L589.94,113.37 L591.00,114.32 L591.86,115.10 L592.62,115.76 L593.31,116.38 L593.98,117.00 L594.70,117.69 L595.44,118.45 L596.17,119.24 L596.91,120.05 L597.68,120.88 L598.50,121.73 L599.38,122.60 L600.31,123.48 L601.28,124.39 L602.25,125.30 L603.20,126.23 L604.16,127.19 L605.13,128.20 L606.09,129.20 L607.02,130.16 L607.90,131.04 L608.72,131.83 L609.49,132.55 L610.23,133.22 L610.96,133.88 L611.70,134.54 L612.46,135.21 L613.25,135.88 L614.01,136.53 L614.74,137.15 L615.40,137.72 L616.00,138.26 L616.57,138.79 L617.07,139.28 L617.49,139.69 L617.80,139.98 L619.24,140.67 L621.30,141.66 L623.68,142.79 L626.07,143.92 L628.20,144.90 L630.00,145.73 L631.68,146.52 L633.30,147.25 L634.95,147.91 L636.70,148.50 L638.56,149.00 L640.49,149.41 L642.46,149.76 L644.44,150.08 L646.40,150.40 L648.34,150.69 L650.28,150.93 L652.21,151.16 L654.15,151.44 L656.10,151.80 L658.06,152.25 L660.02,152.76 L661.98,153.33 L663.94,153.94 L665.90,154.60 L667.86,155.31 L669.82,156.07 L671.77,156.88 L673.70,157.72 L675.60,158.60 L677.60,159.60 L679.72,160.73 L681.74,161.85 L683.47,162.82 L684.70,163.50" stroke="#ff8c00" stroke-width="1.8" fill="none" stroke-linejoin="round" stroke-linecap="round"/>
<path d="M610.51,130.27 V133.87 M608.91,130.27 H612.11 M608.91,133.87 H612.11 M613.16,132.13 V136.53 M611.36,132.13 H614.96 M611.36,136.53 H614.96 M615.48,133.69 V138.89 M613.68,133.69 H617.28 M613.68,138.89 H617.28 M617.30,134.80 V141.20 M615.70,134.80 H618.90 M615.70,141.20 H618.90" stroke="#000" stroke-width="1" fill="none"/>
<path d="M549.65,86.92 L550.70,87.47 L552.19,88.25 L553.91,89.15 L555.65,90.08 L557.20,90.91 L558.54,91.64 L559.81,92.34 L561.04,93.02 L562.26,93.71 L563.50,94.42 L564.74,95.14 L565.98,95.87 L567.22,96.60 L568.45,97.35 L569.70,98.12 L570.95,98.91 L572.21,99.71 L573.48,100.53 L574.74,101.37 L576.00,102.21 L577.31,103.11 L578.68,104.06 L580.02,105.01 L581.25,105.88 L582.30,106.64 L583.07,107.18 L583.61,107.57 L584.06,107.90 L584.58,108.31 L585.30,108.90 L586.30,109.74 L587.48,110.77 L588.73,111.87 L589.94,112.93 L591.00,113.85 L591.86,114.60 L592.62,115.24 L593.31,115.82 L593.98,116.42 L594.70,117.07 L595.44,117.80 L596.17,118.55 L596.91,119.33 L597.68,120.12 L598.50,120.92 L599.38,121.74 L600.31,122.57 L601.28,123.42 L602.25,124.28 L603.20,125.16 L604.16,126.07 L605.13,127.02 L606.09,127.97 L607.02,128.88 L607.90,129.72 L608.72,130.48 L609.49,131.17 L610.23,131.82 L610.96,132.45 L611.70,133.09 L612.46,133.75 L613.25,134.40 L614.01,135.04 L614.74,135.65 L615.40,136.22 L616.00,136.76 L616.57,137.29 L617.07,137.78 L617.49,138.19 L617.80,138.48" stroke="#0a28ff" stroke-width="2.4" fill="none" stroke-linejoin="round" stroke-linecap="round"/>
<circle cx="620.30" cy="139.20" r="1.3" fill="#0a1eff"/>
<circle cx="625.20" cy="142.50" r="1.3" fill="#0a1eff"/>
<circle cx="630.00" cy="146.10" r="1.3" fill="#0a1eff"/>
<circle cx="635.10" cy="148.30" r="1.3" fill="#0a1eff"/>
<circle cx="640.10" cy="151.00" r="1.3" fill="#0a1eff"/>
<circle cx="645.20" cy="152.20" r="1.3" fill="#0a1eff"/>
<circle cx="650.10" cy="152.80" r="1.3" fill="#0a1eff"/>
<circle cx="654.90" cy="154.20" r="1.3" fill="#0a1eff"/>
<circle cx="660.00" cy="155.00" r="1.3" fill="#0a1eff"/>
<circle cx="665.00" cy="156.10" r="1.3" fill="#0a1eff"/>
<circle cx="669.90" cy="157.60" r="1.3" fill="#0a1eff"/>
<circle cx="675.00" cy="158.30" r="1.3" fill="#0a1eff"/>
<circle cx="679.80" cy="159.80" r="1.3" fill="#0a1eff"/>
<circle cx="684.90" cy="161.90" r="1.3" fill="#0a1eff"/>
<text transform="translate(644.90,146.10) scale(1,1.035)" font-size="9.5" style="fill:#111;stroke:#111;stroke-width:0.2px">χ<tspan dy="-3.4" font-size="5.8">2</tspan><tspan dy="3.4">=1.99</tspan></text>
<text x="479.60" y="91.30" font-size="12" font-weight="bold">f</text>
<path d="M524.60,255.86 V367.00 H690.20" stroke="#222" stroke-width="1.3" fill="none"/>
<path d="M521.60,367.00 H524.60 M522.80,352.46 H524.60 M522.80,343.96 H524.60 M522.80,337.92 H524.60 M522.80,333.24 H524.60 M522.80,329.42 H524.60 M522.80,326.18 H524.60 M522.80,323.38 H524.60 M522.80,320.91 H524.60 M521.60,318.70 H524.60 M522.80,304.16 H524.60 M522.80,295.66 H524.60 M522.80,289.62 H524.60 M522.80,284.94 H524.60 M522.80,281.12 H524.60 M522.80,277.88 H524.60 M522.80,275.08 H524.60 M522.80,272.61 H524.60 M521.60,270.40 H524.60 M522.80,255.86 H524.60 M524.60,367.00 V370.00 M566.00,367.00 V370.00 M607.40,367.00 V370.00 M648.80,367.00 V370.00 M690.20,367.00 V370.00" stroke="#222" stroke-width="1.1" fill="none"/>
<text transform="translate(520.00,273.30) scale(1,1.06)" text-anchor="end" font-size="8.3" font-weight="bold">0.1</text>
<text transform="translate(520.00,321.60) scale(1,1.06)" text-anchor="end" font-size="8.3" font-weight="bold">0.01</text>
<text transform="translate(520.00,369.90) scale(1,1.06)" text-anchor="end" font-size="8.3" font-weight="bold">0.001</text>
<text transform="translate(524.60,378.30) scale(1,1.06)" text-anchor="middle" font-size="8.3" font-weight="bold">0.00</text>
<text transform="translate(566.00,378.30) scale(1,1.06)" text-anchor="middle" font-size="8.3" font-weight="bold">0.05</text>
<text transform="translate(607.40,378.30) scale(1,1.06)" text-anchor="middle" font-size="8.3" font-weight="bold">0.10</text>
<text transform="translate(648.80,378.30) scale(1,1.06)" text-anchor="middle" font-size="8.3" font-weight="bold">0.15</text>
<text transform="translate(690.20,378.30) scale(1,1.06)" text-anchor="middle" font-size="8.3" font-weight="bold">0.20</text>
<text transform="translate(607.40,394.30) scale(1,1.06)" text-anchor="middle" font-size="9.0" font-weight="bold">Q / Å<tspan dy="-3" font-size="5.58">-1</tspan></text>
<text transform="translate(494.30,311.43) rotate(-90)" text-anchor="middle" font-size="9.0" font-weight="bold">log(I)</text>
<path d="M549.85,260.07 L550.90,260.62 L552.39,261.40 L554.11,262.31 L555.85,263.24 L557.40,264.08 L558.74,264.81 L560.01,265.51 L561.24,266.20 L562.46,266.89 L563.70,267.60 L564.94,268.33 L566.18,269.06 L567.42,269.80 L568.65,270.55 L569.90,271.32 L571.15,272.11 L572.41,272.92 L573.68,273.74 L574.94,274.58 L576.20,275.43 L577.51,276.33 L578.88,277.28 L580.22,278.23 L581.45,279.11 L582.50,279.87 L583.27,280.42 L583.81,280.80 L584.26,281.14 L584.78,281.55 L585.50,282.14 L586.50,282.99 L587.68,284.02 L588.93,285.13 L590.14,286.21 L591.20,287.15 L592.06,287.91 L592.82,288.56 L593.51,289.16 L594.18,289.77 L594.90,290.45 L595.64,291.19 L596.37,291.96 L597.11,292.76 L597.88,293.57 L598.70,294.40 L599.58,295.24 L600.51,296.10 L601.48,296.98 L602.45,297.87 L603.40,298.77 L604.36,299.71 L605.33,300.69 L606.29,301.67 L607.22,302.60 L608.10,303.47 L608.92,304.24 L609.69,304.95 L610.43,305.61 L611.16,306.26 L611.90,306.91 L612.66,307.58 L613.45,308.24 L614.21,308.89 L614.94,309.50 L615.60,310.07 L616.20,310.62 L616.77,311.15 L617.27,311.64 L617.69,312.05 L618.00,312.34 L618.59,312.57 L619.44,312.88 L620.42,313.25 L621.41,313.67 L622.30,314.10 L623.08,314.57 L623.83,315.08 L624.56,315.62 L625.28,316.17 L626.00,316.70 L626.72,317.22 L627.44,317.75 L628.16,318.27 L628.88,318.79 L629.60,319.30 L630.34,319.80 L631.08,320.28 L631.82,320.76 L632.56,321.24 L633.30,321.70 L634.02,322.16 L634.74,322.61 L635.46,323.06 L636.18,323.49 L636.90,323.90 L637.64,324.29 L638.38,324.67 L639.12,325.03 L639.86,325.37 L640.60,325.70 L641.32,326.01 L642.04,326.29 L642.76,326.57 L643.48,326.83 L644.20,327.10 L644.94,327.37 L645.68,327.64 L646.42,327.90 L647.16,328.15 L647.90,328.40 L648.62,328.63 L649.34,328.85 L650.06,329.07 L650.78,329.28 L651.50,329.50 L652.23,329.72 L652.97,329.94 L653.72,330.16 L654.46,330.38 L655.20,330.60 L655.94,330.82 L656.68,331.04 L657.43,331.25 L658.17,331.47 L658.90,331.70 L659.63,331.93 L660.35,332.17 L661.07,332.42 L661.79,332.66 L662.50,332.90 L663.16,333.12 L663.76,333.32 L664.38,333.53 L665.10,333.78 L666.00,334.10 L667.11,334.51 L668.37,334.99 L669.75,335.52 L671.17,336.06 L672.60,336.60 L674.01,337.11 L675.44,337.61 L676.92,338.13 L678.46,338.71 L680.10,339.40 L682.01,340.29 L684.17,341.37 L686.33,342.47 L688.19,343.43 L689.50,344.10" stroke="#ff8c00" stroke-width="1.8" fill="none" stroke-linejoin="round" stroke-linecap="round"/>
<path d="M610.71,303.20 V306.80 M609.11,303.20 H612.31 M609.11,306.80 H612.31 M613.36,305.08 V309.48 M611.56,305.08 H615.16 M611.56,309.48 H615.16 M615.68,306.65 V311.85 M613.88,306.65 H617.48 M613.88,311.85 H617.48 M617.50,307.76 V314.16 M615.90,307.76 H619.10 M615.90,314.16 H619.10" stroke="#000" stroke-width="1" fill="none"/>
<path d="M549.85,259.67 L550.90,260.22 L552.39,261.00 L554.11,261.91 L555.85,262.84 L557.40,263.68 L558.74,264.41 L560.01,265.11 L561.24,265.80 L562.46,266.49 L563.70,267.20 L564.94,267.93 L566.18,268.66 L567.42,269.40 L568.65,270.15 L569.90,270.92 L571.15,271.71 L572.41,272.52 L573.68,273.34 L574.94,274.18 L576.20,275.03 L577.51,275.93 L578.88,276.88 L580.22,277.83 L581.45,278.71 L582.50,279.47 L583.27,280.02 L583.81,280.40 L584.26,280.74 L584.78,281.15 L585.50,281.74 L586.50,282.59 L587.68,283.62 L588.93,284.72 L590.14,285.79 L591.20,286.71 L592.06,287.46 L592.82,288.10 L593.51,288.69 L594.18,289.29 L594.90,289.95 L595.64,290.68 L596.37,291.43 L597.11,292.21 L597.88,293.01 L598.70,293.81 L599.58,294.63 L600.51,295.47 L601.48,296.32 L602.45,297.19 L603.40,298.07 L604.36,298.98 L605.33,299.93 L606.29,300.89 L607.22,301.81 L608.10,302.65 L608.92,303.41 L609.69,304.10 L610.43,304.76 L611.16,305.39 L611.90,306.03 L612.66,306.69 L613.45,307.35 L614.21,307.99 L614.94,308.61 L615.60,309.17 L616.20,309.72 L616.77,310.25 L617.27,310.74 L617.69,311.15 L618.00,311.44" stroke="#0a28ff" stroke-width="2.4" fill="none" stroke-linejoin="round" stroke-linecap="round"/>
<circle cx="620.00" cy="311.50" r="1.3" fill="#0a1eff"/>
<circle cx="625.30" cy="315.40" r="1.3" fill="#0a1eff"/>
<circle cx="630.30" cy="319.00" r="1.3" fill="#0a1eff"/>
<circle cx="635.30" cy="321.00" r="1.3" fill="#0a1eff"/>
<circle cx="640.30" cy="323.50" r="1.3" fill="#0a1eff"/>
<circle cx="645.30" cy="324.80" r="1.3" fill="#0a1eff"/>
<circle cx="650.30" cy="325.70" r="1.3" fill="#0a1eff"/>
<circle cx="655.10" cy="326.90" r="1.3" fill="#0a1eff"/>
<circle cx="660.10" cy="327.80" r="1.3" fill="#0a1eff"/>
<circle cx="665.10" cy="328.80" r="1.3" fill="#0a1eff"/>
<circle cx="670.10" cy="330.30" r="1.3" fill="#0a1eff"/>
<circle cx="675.10" cy="331.10" r="1.3" fill="#0a1eff"/>
<circle cx="680.10" cy="332.60" r="1.3" fill="#0a1eff"/>
<circle cx="685.10" cy="334.10" r="1.3" fill="#0a1eff"/>
<circle cx="690.10" cy="334.80" r="1.3" fill="#0a1eff"/>
<text transform="translate(644.70,320.00) scale(1,1.035)" font-size="9.5" style="fill:#111;stroke:#111;stroke-width:0.2px">χ<tspan dy="-3.4" font-size="5.8">2</tspan><tspan dy="3.4">=2.74</tspan></text>
<text x="479.80" y="259.60" font-size="12" font-weight="bold">g</text>
<circle cx="274.9" cy="19.9" r="1.6" fill="#0a1eff"/>
<text transform="translate(293.3,24.7) scale(1,1.07)" font-size="13" style="fill:#1e32f2;stroke:#1e32f2;stroke-width:0.2px">Experimental Intensity</text>
<text transform="translate(293.3,50.5) scale(1,1.07)" font-size="13" style="fill:#f78f18;stroke:#f78f18;stroke-width:0.2px">Model Intensity</text>
</svg>
</body></html>
